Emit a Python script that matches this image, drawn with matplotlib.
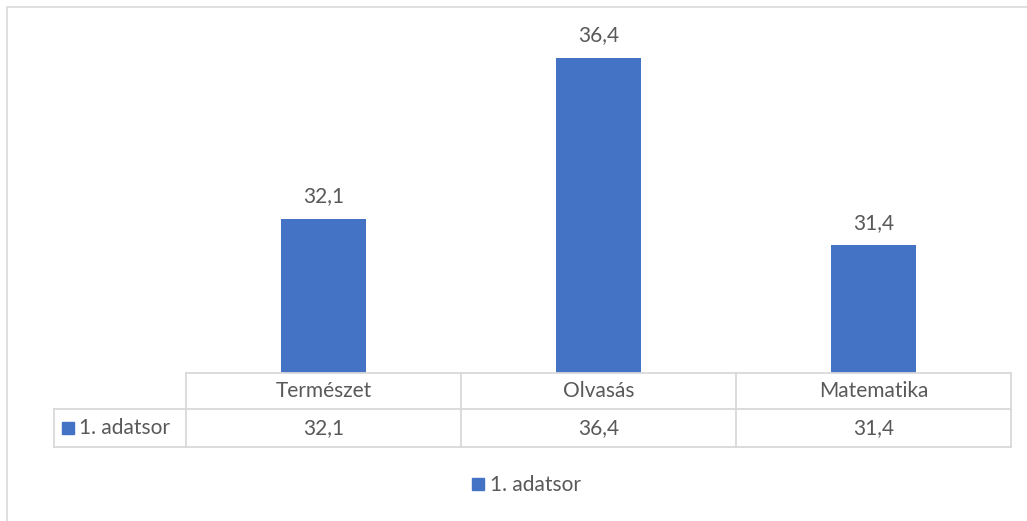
import matplotlib
matplotlib.use("Agg")
from matplotlib import pyplot
from matplotlib.patches import Rectangle

categories = ["Természet", "Olvasás", "Matematika"]
values = [32.1, 36.4, 31.4]
series_name = "1. adatsor"

BLUE = "#4472C4"
GRID = "#d9d9d9"
TXT = "#595959"
W, H = 1027, 521
FS = 15


def fmt(v):
    return f"{v:.1f}".replace(".", ",")


pyplot.rcParams["font.family"] = ["Lato", "DejaVu Sans"]
fig = pyplot.figure(figsize=(W / 100, H / 100), dpi=100)

# outer chart border (right/bottom are cropped off in the reference)
fig.patches.append(Rectangle((7 / W, -0.1), 1.2, 1 - 7 / H + 0.1, transform=fig.transFigure,
                             fill=False, edgecolor=GRID, linewidth=1.2))

left, right, bottom, top = 186, 1011, 373, 35
ax = fig.add_axes([left / W, 1 - bottom / H, (right - left) / W, (bottom - top) / H])
x = range(len(categories))
bars = ax.bar(x, values, width=0.31, color=BLUE, zorder=2)
ax.set_xlim(-0.5, len(categories) - 0.5)
ax.set_ylim(28, 37)
for s in ax.spines.values():
    s.set_visible(False)
ax.set_xticks([])
ax.set_yticks([])

for b, v in zip(bars, values):
    ax.annotate(fmt(v), (b.get_x() + b.get_width() / 2, b.get_height()),
                xytext=(0, 9), textcoords="offset points", ha="center", va="bottom",
                fontsize=FS, color=TXT)

# data table below the plot
aw = right - left
ah = bottom - top
r1 = -36 / ah
r2 = -74 / ah
xl = (54 - left) / aw
tr = ax.transAxes
kw = dict(color=GRID, linewidth=1.3, transform=tr, clip_on=False)
ax.plot([0, 1], [0, 0], **kw)
ax.plot([xl, 1], [r1, r1], **kw)
ax.plot([xl, 1], [r2, r2], **kw)
ax.plot([xl, xl], [r1, r2], **kw)
n = len(categories)
for i in range(n + 1):
    ax.plot([i / n, i / n], [0, r2], **kw)
for i, (c, v) in enumerate(zip(categories, values)):
    xc = (i + 0.5) / n
    ax.text(xc, r1 / 2, c, transform=tr, ha="center", va="center", fontsize=FS, color=TXT)
    ax.text(xc, (r1 + r2) / 2, fmt(v), transform=tr, ha="center", va="center", fontsize=FS, color=TXT)

# row label with legend key
ax.add_patch(Rectangle(((62 - left) / aw, (r1 + r2) / 2 - 6 / ah), 12 / aw, 12 / ah,
                       transform=tr, color=BLUE, clip_on=False))
ax.text((79 - left) / aw, (r1 + r2) / 2, series_name, transform=tr, ha="left", va="center",
        fontsize=FS, color=TXT)

# legend
fig.patches.append(Rectangle((472 / W, 1 - 490 / H), 12 / W, 12 / H, transform=fig.transFigure,
                             color=BLUE))
fig.text(490 / W, 1 - 485 / H, series_name, ha="left", va="center", fontsize=FS, color=TXT)

pyplot.savefig("out.png", dpi=100)
